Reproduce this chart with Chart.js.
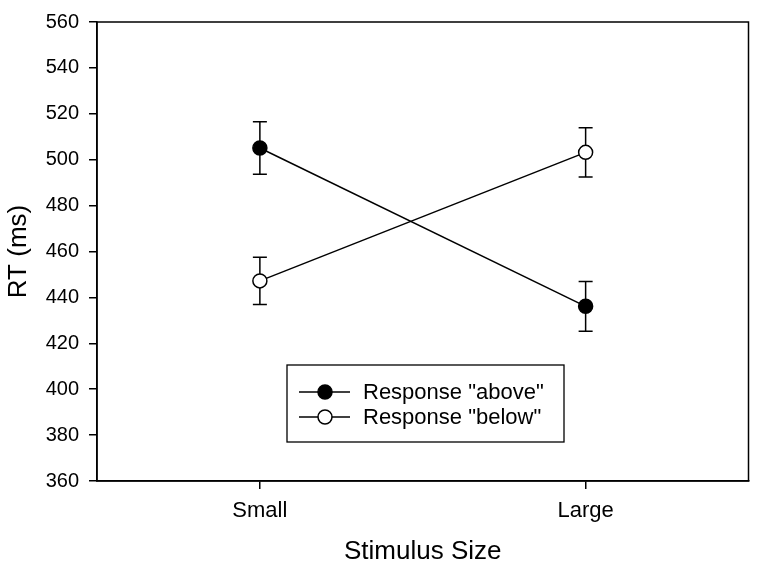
<!DOCTYPE html>
<html>
<head>
<meta charset="utf-8">
<script src="https://cdn.jsdelivr.net/npm/chart.js@4/dist/chart.umd.min.js"></script>
<style>
  html, body { margin: 0; padding: 0; background: #fff; }
  #wrap { width: 757px; height: 569px; }
</style>
</head>
<body>
<div id="wrap"><canvas id="c" width="757" height="569"></canvas></div>
<script>
// ---- Data ----
const categories = ["Small", "Large"];
const seriesLabels = ['Response "above"', 'Response "below"'];
const aboveMean = [505.1, 436.1];
const aboveErr  = [11.4, 10.8];
const belowMean = [447.2, 503.2];
const belowErr  = [10.3, 10.7];
const yTicks = [360, 380, 400, 420, 440, 460, 480, 500, 520, 540, 560];

const FONT = "'Liberation Sans', Arial, Helvetica, sans-serif";

const errorBarPlugin = {
  id: 'errorBars',
  beforeDatasetsDraw(chart) {
    const ctx = chart.ctx;
    const yS = chart.scales.y;
    ctx.save();
    ctx.strokeStyle = '#000';
    ctx.lineWidth = 1.5;
    chart.data.datasets.forEach((ds, di) => {
      const meta = chart.getDatasetMeta(di);
      meta.data.forEach((pt, i) => {
        const m = ds.data[i], e = ds.errors[i];
        const x = pt.x;
        const y1 = yS.getPixelForValue(m + e);
        const y2 = yS.getPixelForValue(m - e);
        ctx.beginPath();
        ctx.moveTo(x, y1); ctx.lineTo(x, y2);
        ctx.moveTo(x - 7, y1); ctx.lineTo(x + 7, y1);
        ctx.moveTo(x - 7, y2); ctx.lineTo(x + 7, y2);
        ctx.stroke();
      });
    });
    ctx.restore();
  }
};

const framePlugin = {
  id: 'frame',
  afterDraw(chart) {
    const { ctx, chartArea: a } = chart;
    ctx.save();
    ctx.strokeStyle = '#000';
    ctx.lineWidth = 1.5;
    ctx.strokeRect(a.left, a.top, a.right - a.left, a.bottom - a.top);

    // legend box
    const bx = 287, by = 365, bw = 277, bh = 77;
    ctx.lineWidth = 1.3;
    ctx.strokeRect(bx, by, bw, bh);
    chart.data.datasets.forEach((ds, i) => {
      const cy = 392 + i * 25;
      ctx.lineWidth = 1.5;
      ctx.strokeStyle = '#000';
      ctx.beginPath();
      ctx.moveTo(299, cy); ctx.lineTo(350, cy);
      ctx.stroke();
      ctx.beginPath();
      ctx.arc(325, cy, 7, 0, Math.PI * 2);
      ctx.fillStyle = ds.pointBackgroundColor;
      ctx.fill();
      ctx.stroke();
      ctx.fillStyle = '#000';
      ctx.font = '22px ' + FONT;
      ctx.textBaseline = 'middle';
      ctx.textAlign = 'left';
      ctx.fillText(ds.label, 363, cy + 1);
    });
    ctx.restore();
  }
};

new Chart(document.getElementById('c'), {
  type: 'line',
  data: {
    labels: categories,
    datasets: [
      {
        label: seriesLabels[0],
        data: aboveMean,
        errors: aboveErr,
        borderColor: '#000',
        borderWidth: 1.5,
        pointRadius: 7,
        pointHoverRadius: 7,
        pointBorderWidth: 1.5,
        pointBorderColor: '#000',
        pointBackgroundColor: '#000',
        tension: 0
      },
      {
        label: seriesLabels[1],
        data: belowMean,
        errors: belowErr,
        borderColor: '#000',
        borderWidth: 1.5,
        pointRadius: 7,
        pointHoverRadius: 7,
        pointBorderWidth: 1.5,
        pointBorderColor: '#000',
        pointBackgroundColor: '#fff',
        tension: 0
      }
    ]
  },
  options: {
    responsive: false,
    animation: false,
    events: [],
    layout: { padding: { left: 0, top: 11, right: 6, bottom: 0 } },
    plugins: { legend: { display: false }, tooltip: { enabled: false } },
    scales: {
      x: {
        type: 'category',
        offset: true,
        afterFit(s) { s.height = 88; },
        grid: { display: true, drawOnChartArea: false, drawTicks: true, tickLength: 8, color: '#000', lineWidth: 1.5 },
        border: { display: true, color: '#000', width: 1.5 },
        ticks: { color: '#000', font: { family: FONT, size: 22 }, padding: 9 },
        title: { display: true, text: 'Stimulus Size', color: '#000', font: { family: FONT, size: 26 }, padding: { top: 4, bottom: 2 } }
      },
      y: {
        min: 360, max: 560,
        afterFit(s) { s.width = 97; },
        afterBuildTicks(s) { s.ticks = yTicks.map(v => ({ value: v })); },
        grid: { display: true, drawOnChartArea: false, drawTicks: true, tickLength: 8, color: '#000', lineWidth: 1.5 },
        border: { display: true, color: '#000', width: 1.5 },
        ticks: { color: '#000', font: { family: FONT, size: 20 }, padding: 10 },
        title: { display: true, text: 'RT (ms)', color: '#000', font: { family: FONT, size: 26 }, padding: { top: 3, bottom: 4 } }
      }
    }
  },
  plugins: [errorBarPlugin, framePlugin]
});
</script>
</body>
</html>
